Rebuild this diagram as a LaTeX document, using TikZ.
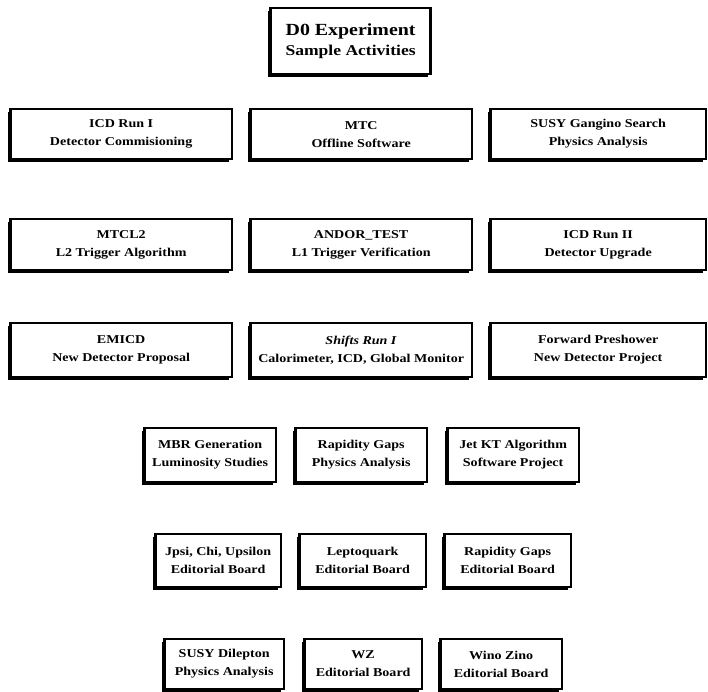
\documentclass[tikz,border=0pt]{standalone}
\usepackage{fontspec}
\setmainfont{Liberation Serif}[FakeStretch=1.17]
\usetikzlibrary{shadows}
\tikzset{
  actbox/.style={draw=black, line width=2.4pt, fill=white, align=center, inner sep=0pt,
    general shadow={fill=black, shadow xshift=-2.5pt, shadow yshift=-3pt},
    font=\bfseries\fontsize{12}{18}\selectfont},
}
% name, left, top, right, bottom (pixel coords, y downward), text
\newcommand{\ActBox}[6]{%
  \node[actbox, minimum width={(#4-#2-3.7)*1pt}, minimum height={(#5-#3-4.2)*1pt}]
    (#1) at ({((#2+#4)/2+0.65)*1pt},{-((#3+#5)/2-0.9)*1pt}) {#6};}
\begin{document}
\begin{tikzpicture}
\useasboundingbox (0,0) rectangle (708pt,-691pt);
% title
\node[actbox, minimum width=160pt, minimum height=66pt, font=\bfseries\fontsize{16}{20}\selectfont]
  (title) at (350.6pt,-41.1pt) {{\fontsize{17}{20}\selectfont D0 Experiment}\\{\fontsize{15}{20}\selectfont Sample Activities}};
% row 1
\ActBox{icdrun1}{8}{108}{233}{162}{ICD Run I\\Detector Commisioning}
\ActBox{mtc}{248}{108}{473}{162}{MTC\\Offline Software}
\ActBox{susyg}{488}{108}{707}{162}{SUSY Gangino Search\\Physics Analysis}
% row 2
\ActBox{mtcl2}{8}{218}{233}{273}{MTCL2\\L2 Trigger Algorithm}
\ActBox{andor}{248}{218}{473}{273}{ANDOR\_TEST\\L1 Trigger Verification}
\ActBox{icdrun2}{488}{218}{707}{273}{ICD Run II\\Detector Upgrade}
% row 3
\ActBox{emicd}{8}{322}{233}{380}{EMICD\\New Detector Proposal}
\ActBox{shifts}{248}{322}{473}{380}{\textit{Shifts Run I}\\Calorimeter, ICD, Global Monitor}
\ActBox{fps}{488}{322}{707}{380}{Forward Preshower\\New Detector Project}
% row 4
\ActBox{mbr}{142}{427}{277}{485}{MBR Generation\\Luminosity Studies}
\ActBox{rapgaps}{293}{427}{428}{485}{Rapidity Gaps\\Physics Analysis}
\ActBox{jetkt}{445}{427}{580}{485}{Jet KT Algorithm\\Software Project}
% row 5
\ActBox{jpsi}{153}{533}{282}{590}{Jpsi, Chi, Upsilon\\Editorial Board}
\ActBox{lq}{297}{533}{427}{590}{Leptoquark\\Editorial Board}
\ActBox{rapeb}{442}{533}{572}{590}{Rapidity Gaps\\Editorial Board}
% row 6
\ActBox{susyd}{162}{638}{285}{692}{SUSY Dilepton\\Physics Analysis}
\ActBox{wz}{302}{638}{423}{692}{WZ\\Editorial Board}
\ActBox{wino}{438}{638}{563}{692}{Wino Zino\\Editorial Board}
\end{tikzpicture}
\end{document}
